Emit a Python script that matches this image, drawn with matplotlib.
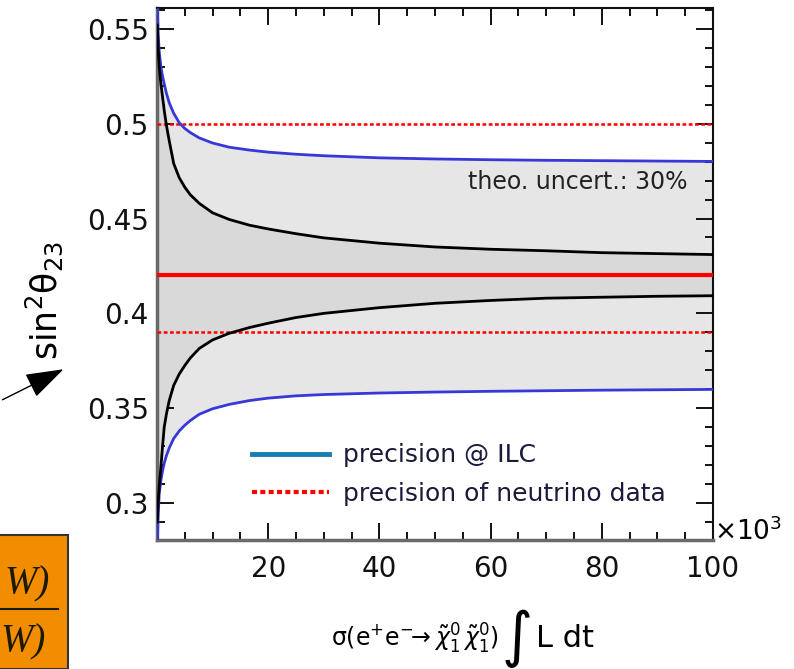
import matplotlib
matplotlib.use("Agg")
import matplotlib.pyplot as plt
from matplotlib.lines import Line2D
from matplotlib.patches import Rectangle, FancyArrowPatch

plt.rcParams['font.family'] = ['DejaVu Sans']
plt.rcParams['mathtext.fontset'] = 'custom'
plt.rcParams['mathtext.rm'] = 'DejaVu Sans'
plt.rcParams['mathtext.it'] = 'DejaVu Sans:italic'
plt.rcParams['mathtext.sf'] = 'DejaVu Sans'

# ---- data (x in units of 10^3) ----
x = [0.05, 0.2, 0.4, 0.7, 1, 1.3, 1.7, 2.2, 3, 4, 5, 6, 7.6, 10, 13, 16.6, 20, 25, 30,
     40, 50, 60, 70, 80, 90, 100]
ilc_upper = [0.562, 0.548, 0.538, 0.530, 0.525, 0.521, 0.516, 0.511, 0.5055, 0.5005, 0.4975,
             0.4953, 0.4925, 0.4898, 0.4876, 0.4861, 0.485, 0.4839, 0.4831, 0.482, 0.4814, 0.481,
             0.4807, 0.4805, 0.4803, 0.4801]
ilc_lower = [0.279, 0.293, 0.305, 0.312, 0.317, 0.321, 0.325, 0.329, 0.334, 0.338, 0.341, 0.3435,
             0.3468, 0.3497, 0.352, 0.354, 0.3553, 0.3565, 0.3572, 0.358, 0.3585, 0.3589,
             0.3592, 0.3595, 0.3597, 0.3599]
stat_upper = [0.552, 0.540, 0.530, 0.521, 0.514, 0.507, 0.499, 0.491, 0.479, 0.4715, 0.4665,
              0.4625, 0.458, 0.453, 0.4495, 0.4465, 0.4445, 0.442, 0.4398, 0.437, 0.435, 0.4338,
              0.433, 0.432, 0.4315, 0.431]
stat_lower = [0.290, 0.300, 0.309, 0.319, 0.330, 0.340, 0.347, 0.354, 0.362, 0.368, 0.3725,
              0.3765, 0.3815, 0.386, 0.3895, 0.3925, 0.3948, 0.3978, 0.4, 0.403, 0.4053, 0.4068,
              0.408, 0.4085, 0.409, 0.4093]
central_value = 0.42
neutrino_bounds = [0.39, 0.50]
x_range = [0, 100]
yticks = [0.3, 0.35, 0.4, 0.45, 0.5, 0.55]
ytick_labels = ['0.3', '0.35', '0.4', '0.45', '0.5', '0.55']
xticks = [20, 40, 60, 80, 100]
xtick_labels = ['20', '40', '60', '80', '100']
legend_labels = ['precision @ ILC', 'precision of neutrino data']

fig = plt.figure(figsize=(7.94, 6.69), dpi=100)
ax = fig.add_axes([157/794, 1-540/669, (713-157)/794, (540-8)/669])

ax.fill_between(x, ilc_lower, ilc_upper, color='#e6e6e6', lw=0, zorder=1)
ax.fill_between(x, stat_lower, stat_upper, color='#d9d9d9', lw=0, zorder=2)
ax.plot(x, ilc_upper, color='#3838d8', lw=2, zorder=4)
ax.plot(x, ilc_lower, color='#3838d8', lw=2, zorder=4)
ax.plot(x, stat_upper, color='black', lw=2, zorder=4)
ax.plot(x, stat_lower, color='black', lw=2, zorder=4)
ax.plot(x_range, [central_value]*2, color='#ff0000', lw=3, zorder=5)
for b in neutrino_bounds:
    ax.plot(x_range, [b, b], color='#ff0000', lw=1.8, ls=(0, (1.5, 1)), zorder=3)

ax.set_xlim(0, 100)
ax.set_ylim(0.2805, 0.561)
ax.set_xticks(xticks)
ax.set_xticklabels(xtick_labels)
ax.set_xticks([v for v in range(5, 100, 5) if v % 20 != 0], minor=True)
ax.set_yticks(yticks)
ax.set_yticklabels(ytick_labels)
ax.set_yticks([0.29, 0.31, 0.32, 0.33, 0.34, 0.36, 0.37, 0.38, 0.39, 0.41, 0.42, 0.43, 0.44,
               0.46, 0.47, 0.48, 0.49, 0.51, 0.52, 0.53, 0.54, 0.56], minor=True)
ax.tick_params(which='both', direction='in', top=True, right=True, labelsize=20, width=1.4,
               colors='#111111')
ax.tick_params(which='major', length=12)
ax.tick_params(which='minor', length=6)
ax.tick_params(axis='x', pad=11)
ax.tick_params(axis='y', pad=6)
for s in ['left', 'bottom']:
    ax.spines[s].set_color('#6a6a6a')
    ax.spines[s].set_linewidth(2.5)
for s in ['top', 'right']:
    ax.spines[s].set_color('#111111')
    ax.spines[s].set_linewidth(1.5)

ax.text(0.955, 0.672, 'theo. uncert.: 30%', transform=ax.transAxes, ha='right', va='center',
        fontsize=17, color='#222222')

handles = [Line2D([0], [0], color='#1a7db0', lw=3.5),
           Line2D([0], [0], color='#ff0000', lw=3, ls=(0, (1.2, 0.8)))]
ax.legend(handles, legend_labels, loc='upper left', bbox_to_anchor=(0.148, 0.205), frameon=False,
          fontsize=18, handlelength=3.1, handletextpad=0.55, labelspacing=0.58,
          labelcolor='#1a1a3a', borderpad=0)

# x label pieces
fig.text(499/794, 1-647/669,
         r'$\mathrm{\sigma(e^{+}e^{-}\!\!\rightarrow}\tilde{\chi}^{0}_{1}\,\tilde{\chi}^{0}_{1}\mathrm{)}$',
         ha='right', va='baseline', fontsize=17)
fig.text(517/794, 1-655/669, '\u222b', family=['DejaVu Sans'], ha='center',
         va='baseline', fontsize=43)
fig.text(536/794, 1-647/669, 'L dt', ha='left', va='baseline', fontsize=22)

fig.text(44/794, 1-300/669, r'$\mathrm{sin^{2}\theta_{23}}$', rotation=90, ha='center',
         va='center', fontsize=25)
fig.text(714/794, 1-532/669, r'$\times\mathrm{10^{3}}$', ha='left', va='center', fontsize=19)

# arrow pointing at the y axis
fig.patches.append(FancyArrowPatch(
    (0, 1-401/669), (66/794, 1-368/669), transform=fig.transFigure,
    arrowstyle='-|>,head_length=24,head_width=8', mutation_scale=1, lw=1, color='black'))

# orange box at bottom left
fig.patches.append(Rectangle((-10/794, 0), 78/794, 134/669, transform=fig.transFigure,
                             facecolor='#f28c00', edgecolor='#333333', lw=1.5))
fig.text(4/794, 1-584/669, 'W)', family='Liberation Serif', style='italic', fontsize=28,
         ha='left', va='center', color='#1a1a00')
fig.add_artist(Line2D([0, 58/794], [1-609/669, 1-609/669], transform=fig.transFigure,
                      color='#1a1a00', lw=1.5))
fig.text(0/794, 1-642/669, 'W)', family='Liberation Serif', style='italic', fontsize=28,
         ha='left', va='center', color='#1a1a00')

fig.savefig('out.png', dpi=100)
